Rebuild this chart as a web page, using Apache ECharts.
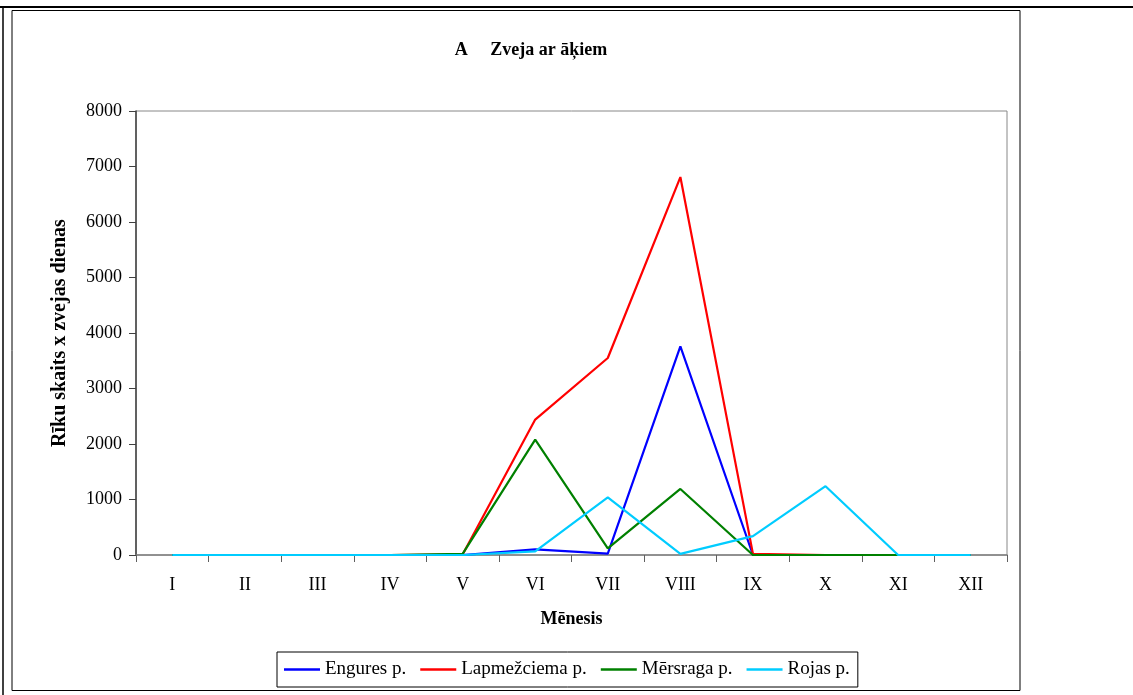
<!DOCTYPE html>
<html><head><meta charset="utf-8">
<script src="https://cdn.jsdelivr.net/npm/echarts@6/dist/echarts.min.js"></script>
<style>html,body{margin:0;padding:0;background:#fff}#c{width:1133px;height:695px}</style>
</head><body><div id="c"></div>
<script>
var months = ['I','II','III','IV','V','VI','VII','VIII','IX','X','XI','XII'];
var seriesNames = ['Engures p.','Lapmežciema p.','Mērsraga p.','Rojas p.'];
var engures = [0,0,0,0,0,100,25,3760,0,0,0,0];
var lapmezciema = [0,0,0,0,10,2440,3550,6810,20,0,0,0];
var mersraga = [0,0,0,0,20,2080,120,1190,0,0,0,0];
var rojas = [0,0,0,0,0,65,1040,20,340,1240,0,0];
var yTicks = {min:0,max:8000,interval:1000};
var colors = ['#0000ff','#ff0000','#008000','#00ccff'];
var font = '"Liberation Serif","Times New Roman",serif';

var chart = echarts.init(document.getElementById('c'), null, {renderer:'canvas'});
var data = [engures, lapmezciema, mersraga, rojas];
chart.setOption({
  animation:false,
  backgroundColor:'#fff',
  graphic:[
    {type:'line', shape:{x1:0,y1:7,x2:1133,y2:7}, style:{stroke:'#000',lineWidth:2}},
    {type:'line', shape:{x1:3,y1:7,x2:3,y2:695}, style:{stroke:'#000',lineWidth:1.5}},
    {type:'rect', shape:{x:12,y:10.5,width:1008,height:680}, style:{fill:'none',stroke:'#000',lineWidth:1}},
    {type:'rect', shape:{x:136,y:111,width:871,height:444}, style:{fill:'none',stroke:'#888',lineWidth:1}, z:-1}
  ],
  title:{text:'A     Zveja ar āķiem', left:526, top:36, textAlign:'center',
    textStyle:{fontFamily:font,fontSize:18,fontWeight:'bold',color:'#000'}},
  grid:{left:136,right:126,top:111,bottom:140},
  legend:{data:seriesNames, left:277, top:652, height:35,
    borderColor:'#000', borderWidth:1, padding:[8,8,8,7], itemGap:14,
    icon:'rect', itemWidth:36, itemHeight:2.5,
    textStyle:{fontFamily:font,fontSize:19,color:'#000'}},
  xAxis:{type:'category', data:months, boundaryGap:true,
    name:'Mēnesis', nameLocation:'middle', nameGap:55,
    nameTextStyle:{fontFamily:font,fontSize:18,fontWeight:'bold',color:'#000'},
    axisLine:{lineStyle:{color:'#808080',width:1.5}},
    axisTick:{show:true, alignWithLabel:false, length:7, lineStyle:{color:'#606060'}},
    axisLabel:{fontFamily:font,fontSize:18,color:'#000',margin:21},
    splitLine:{show:false}},
  yAxis:{type:'value', min:yTicks.min, max:yTicks.max, interval:yTicks.interval,
    name:'Rīku skaits x zvejas dienas', nameLocation:'middle', nameGap:66,
    nameTextStyle:{fontFamily:font,fontSize:20,fontWeight:'bold',color:'#000'},
    axisLine:{show:true,lineStyle:{color:'#404040',width:1.5}},
    axisTick:{show:true,length:7,lineStyle:{color:'#404040'}},
    axisLabel:{fontFamily:font,fontSize:18,color:'#000',margin:14,
      formatter:function(v){return String(v);}},
    splitLine:{show:false}},
  series: seriesNames.map(function(n,i){
    return {name:n, type:'line', data:data[i], symbol:'none', showSymbol:false,
      lineStyle:{color:colors[i], width:2.2}, itemStyle:{color:colors[i]}};
  })
});
</script></body></html>
